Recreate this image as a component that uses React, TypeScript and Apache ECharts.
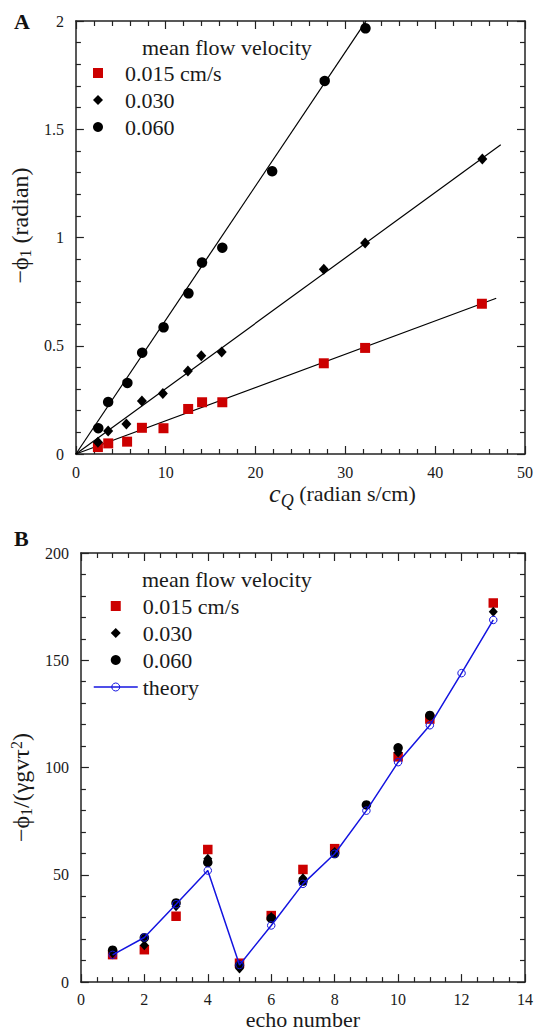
import React, { useEffect, useRef } from "react";
import * as echarts from "echarts";

// ---------- Panel A data ----------
const cqSlow = [2.45, 3.6, 5.7, 7.35, 9.75, 12.5, 14.05, 16.3, 27.6, 32.2, 45.2];
const phiSlow = [0.032, 0.049, 0.057, 0.121, 0.119, 0.208, 0.239, 0.239, 0.419, 0.49, 0.694];
const cqMid = [2.45, 3.59, 5.62, 7.35, 9.68, 12.47, 13.96, 16.23, 27.6, 32.2, 45.25];
const phiMid = [0.054, 0.106, 0.139, 0.245, 0.28, 0.383, 0.454, 0.471, 0.853, 0.975, 1.363];
const cqFast = [2.49, 3.59, 5.73, 7.38, 9.76, 12.53, 14.04, 16.3, 21.85, 27.7, 32.24];
const phiFast = [0.119, 0.24, 0.328, 0.468, 0.585, 0.742, 0.884, 0.953, 1.306, 1.723, 1.966];
const fitSlopes = [0.01537, 0.0302, 0.0619];
const fitEnds = [46.8, 47.3, 32.3];

// ---------- Panel B data ----------
const echoTheory = [1, 2, 3, 4, 5, 6, 7, 8, 9, 10, 11, 12, 13];
const theoryVals = [12.7, 20.8, 36.3, 52.0, 8.0, 26.4, 45.8, 59.8, 79.9, 102.5, 119.7, 144.0, 168.8];
const echoSlow = [1, 2, 3, 4, 5, 6, 7, 8, 10, 11, 13];
const valsSlow = [12.8, 15.1, 30.7, 61.8, 8.8, 31.0, 52.5, 62.2, 105.0, 122.6, 176.7];
const echoMid = [1, 2, 3, 4, 5, 6, 7, 8, 10, 11, 13];
const valsMid = [13.5, 17.2, 35.4, 57.5, 6.3, 30.3, 48.4, 60.6, 107.0, 124.0, 172.6];
const echoFast = [1, 2, 3, 4, 5, 6, 7, 8, 9, 10, 11];
const valsFast = [14.9, 20.7, 36.9, 55.8, 7.8, 29.7, 47.1, 59.9, 82.6, 109.2, 124.3];

const seriesNames = ["0.015 cm/s", "0.030", "0.060"];
const theoryName = "theory";
const legendTitle = "mean flow velocity";

const FONT = "Liberation Serif";
const INK = "#1a1a1a";
const RED = "#cc0000";
const BLUE = "#1414e0";

const zip = (xs: number[], ys: number[]) => xs.map((x, i) => [x, ys[i]]);

function axisBase(showLabel: boolean, minorSplit: number, margin: number) {
  return {
    axisLine: { show: true, onZero: false, lineStyle: { color: "#222", width: 1.5 } },
    axisTick: { show: true, inside: true, length: 8, lineStyle: { color: "#222", width: 1.2 } },
    minorTick: { show: true, splitNumber: minorSplit, length: 5, lineStyle: { color: "#222", width: 1.2 } },
    splitLine: { show: false },
    minorSplitLine: { show: false },
    axisLabel: { show: showLabel, fontFamily: FONT, fontSize: 16, color: INK, margin },
  };
}

const richBase = {
  n: { fontFamily: FONT, fontSize: 22, color: INK },
  sub: { fontFamily: FONT, fontSize: 15, color: INK, padding: [10, 0, 0, 0] },
  sup: { fontFamily: FONT, fontSize: 15, color: INK, padding: [0, 0, 10, 0] },
  i: { fontFamily: FONT, fontSize: 26, fontStyle: "italic", color: INK },
  isub: { fontFamily: FONT, fontSize: 18, fontStyle: "italic", color: INK, padding: [14, 0, 0, 0] },
};

const richY = {
  n: { fontFamily: FONT, fontSize: 24, color: INK },
  sub: { fontFamily: FONT, fontSize: 16, color: INK, padding: [10, 0, 0, 0] },
  sup: { fontFamily: FONT, fontSize: 16, color: INK, padding: [0, 0, 10, 0] },
};

export default function App() {
  const ref = useRef<HTMLDivElement>(null);

  useEffect(() => {
    if (!ref.current) return;
    const chart = echarts.init(ref.current, null, { renderer: "svg" });

    const markerA = [
      { symbol: "rect", size: 10, color: RED },
      { symbol: "diamond", size: [10, 11], color: "#000" },
      { symbol: "circle", size: 10.5, color: "#000" },
    ];
    const markerB = [
      { symbol: "rect", size: 9.5, color: RED },
      { symbol: "diamond", size: [9, 10], color: "#000" },
      { symbol: "circle", size: 9.5, color: "#000" },
    ];
    const aData = [zip(cqSlow, phiSlow), zip(cqMid, phiMid), zip(cqFast, phiFast)];
    const bData = [zip(echoSlow, valsSlow), zip(echoMid, valsMid), zip(echoFast, valsFast)];

    const fitSeries = fitSlopes.map((s, i) => ({
      name: "fit " + seriesNames[i],
      type: "line",
      xAxisIndex: 0,
      yAxisIndex: 0,
      symbol: "none",
      silent: true,
      lineStyle: { color: "#000", width: 1.2 },
      data: [
        [0, 0],
        [fitEnds[i], fitEnds[i] * s],
      ],
      z: 2,
    }));

    const scatterA = seriesNames.map((n, i) => ({
      name: n,
      type: "scatter",
      xAxisIndex: 0,
      yAxisIndex: 0,
      symbol: markerA[i].symbol,
      symbolSize: markerA[i].size,
      itemStyle: { color: markerA[i].color, opacity: 1 },
      data: aData[i],
      z: 3,
    }));

    const scatterB = seriesNames.map((n, i) => ({
      name: n,
      type: "scatter",
      xAxisIndex: 2,
      yAxisIndex: 2,
      symbol: markerB[i].symbol,
      symbolSize: markerB[i].size,
      itemStyle: { color: markerB[i].color, opacity: 1 },
      data: bData[i],
      z: 3,
    }));

    const theorySeries = {
      name: theoryName,
      type: "line",
      xAxisIndex: 2,
      yAxisIndex: 2,
      symbol: "circle",
      symbolSize: 7.5,
      showAllSymbol: true,
      itemStyle: { color: "transparent", borderColor: BLUE, borderWidth: 1 },
      lineStyle: { color: BLUE, width: 1.5 },
      data: zip(echoTheory, theoryVals),
      z: 4,
    };

    const iconRect = "path://M0,0L10,0L10,10L0,10Z";
    const iconDiamond = "path://M5,0L10,5L5,10L0,5Z";
    const legendIcons = [iconRect, iconDiamond, "circle"];
    const legendColors = [RED, "#000", "#000"];

    const legendCommon = {
      orient: "vertical",
      left: 93,
      itemWidth: 44,
      itemHeight: 10,
      itemGap: 5,
      selectedMode: false,
      padding: 0,
      symbolKeepAspect: true,
      textStyle: { fontFamily: FONT, fontSize: 22, lineHeight: 22, color: INK },
    };

    const legendItems = seriesNames.map((n, i) => ({
      name: n,
      icon: legendIcons[i],
      itemStyle: { color: legendColors[i], borderWidth: 0 },
    }));

    const option: any = {
      animation: false,
      backgroundColor: "#fff",
      textStyle: { fontFamily: FONT },
      grid: [
        { left: 70, top: 21, width: 456, height: 433, containLabel: false },
        { left: 70, top: 553, width: 456, height: 432.5, containLabel: false },
      ],
      xAxis: [
        {
          ...axisBase(true, 5, 10),
          gridIndex: 0,
          type: "value",
          position: "bottom",
          min: 0,
          max: 50,
          interval: 10,
          name: "{i|c}{isub|Q}{n| (radian s/cm)}",
          nameLocation: "middle",
          nameGap: 20,
          nameTextStyle: { fontFamily: FONT, padding: [0, 0, 0, 84], rich: richBase },
        },
        { ...axisBase(false, 5, 10), gridIndex: 0, type: "value", position: "top", min: 0, max: 50, interval: 10 },
        {
          ...axisBase(true, 4, 9),
          gridIndex: 1,
          type: "value",
          position: "bottom",
          min: 0,
          max: 14,
          interval: 2,
          name: "echo number",
          nameLocation: "middle",
          nameGap: 24,
          nameTextStyle: { fontFamily: FONT, fontSize: 22, color: INK },
        },
        { ...axisBase(false, 4, 9), gridIndex: 1, type: "value", position: "top", min: 0, max: 14, interval: 2 },
      ],
      yAxis: [
        {
          ...axisBase(true, 5, 12),
          gridIndex: 0,
          type: "value",
          position: "left",
          min: 0,
          max: 2,
          interval: 0.5,
          name: "{n|−ϕ}{sub|1}{n| (radian)}",
          nameLocation: "middle",
          nameGap: 35,
          nameTextStyle: { fontFamily: FONT, padding: [0, 0, 0, 24], rich: richY },
        },
        { ...axisBase(false, 5, 12), gridIndex: 0, type: "value", position: "right", min: 0, max: 2, interval: 0.5 },
        {
          ...axisBase(true, 5, 12),
          gridIndex: 1,
          type: "value",
          position: "left",
          min: 0,
          max: 200,
          interval: 50,
          name: "{n|−ϕ}{sub|1}{n|/(γgvτ}{sup|2}{n|)}",
          nameLocation: "middle",
          nameGap: 35,
          nameTextStyle: { fontFamily: FONT, padding: [0, 40, 0, 0], rich: richY },
        },
        { ...axisBase(false, 5, 12), gridIndex: 1, type: "value", position: "right", min: 0, max: 200, interval: 50 },
      ],
      legend: [
        { ...legendCommon, top: 62, data: legendItems },
        {
          ...legendCommon,
          top: 595,
          data: [
            ...legendItems,
            {
              name: theoryName,
              itemStyle: { color: "transparent", borderColor: BLUE, borderWidth: 1 },
              lineStyle: { color: BLUE, width: 1.5 },
            },
          ],
        },
      ],
      graphic: [
        {
          type: "text",
          x: 14,
          y: 21,
          style: { text: "A", fontFamily: FONT, fontSize: 22, fontWeight: "bold", fill: "#111", verticalAlign: "middle" },
        },
        {
          type: "text",
          x: 14,
          y: 538,
          style: { text: "B", fontFamily: FONT, fontSize: 22, fontWeight: "bold", fill: "#111", verticalAlign: "middle" },
        },
        {
          type: "text",
          x: 142,
          y: 47,
          style: { text: legendTitle, fontFamily: FONT, fontSize: 22, fill: INK, verticalAlign: "middle" },
        },
        {
          type: "text",
          x: 142,
          y: 579,
          style: { text: legendTitle, fontFamily: FONT, fontSize: 22, fill: INK, verticalAlign: "middle" },
        },
      ],
      series: [...fitSeries, ...scatterA, ...scatterB, theorySeries],
    };

    chart.setOption(option);
    return () => chart.dispose();
  }, []);

  return (
    <div
      ref={ref}
      style={{ position: "fixed", left: 0, top: 0, width: 536, height: 1031, background: "#fff" }}
    />
  );
}
